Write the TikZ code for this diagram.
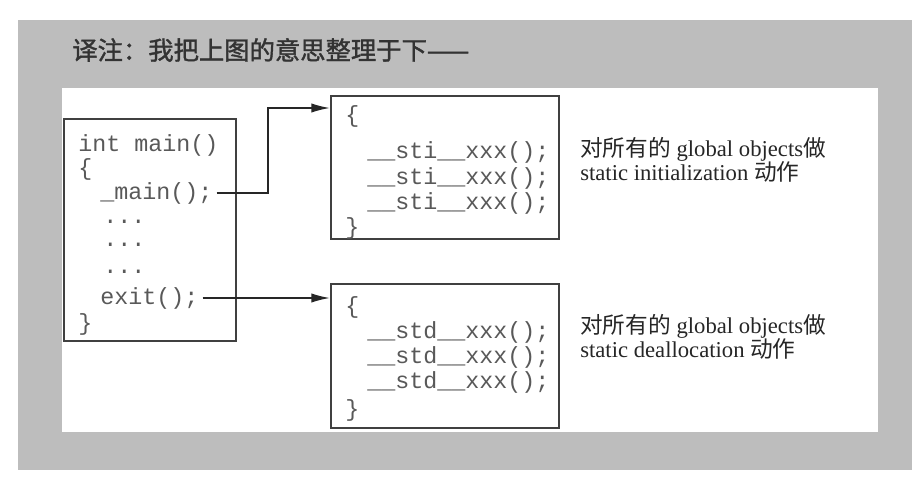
\documentclass[tikz,border=0pt]{standalone}
\usepackage{fontspec}
\setmainfont{Liberation Serif}
\setmonofont{Liberation Mono}
\newfontfamily\cjk{Noto Sans CJK SC}
\newfontfamily\cjkhead[FakeBold=1.5]{Noto Sans CJK SC}
\usetikzlibrary{arrows.meta,calc}
\tikzset{
  codebox/.style={draw=black!75,line width=1.5pt,anchor=north west},
  codeline/.style={anchor=west,inner sep=0pt,font=\fontsize{17.5}{18}\ttfamily,text=black!65},
  note/.style={anchor=north west,align=left,inner sep=0pt,font=\fontsize{17}{18}\selectfont,text=black!85},
  link/.style={draw=black!85,line width=1.2pt,-{Latex[length=14pt,width=7pt]}}
}
\begin{document}
\begin{tikzpicture}[x=0.75pt,y=-0.75pt]
\useasboundingbox (0,0) rectangle (914,477);
% grey panel with white inset
\fill[gray!52] (18,20) rectangle (912,470);
\fill[white] (62,88) rectangle (878,432);
\node[anchor=west,inner sep=0pt,font=\cjkhead\fontsize{19}{19}\selectfont,text=black!80] (hdr) at (72,50) {译注：我把上图的意思整理于下——};
% main()
\node[codebox,minimum width=129pt,minimum height=166.5pt] (mainbox) at (63,118) {};
\node[codeline] (m1) at (78,145) {int main()};
\node[codeline] (m2) at (78,169) {\{};
\node[codeline] (mainline) at (100,193) {\_main();};
\node[codeline] (m4) at (103,222) {...};
\node[codeline] (m5) at (103,245) {...};
\node[codeline] (m6) at (103,272) {...};
\node[codeline] (exitline) at (100,298) {exit();};
\node[codeline] (m8) at (78,324) {\}};
% static init
\node[codebox,minimum width=171pt,minimum height=107.25pt] (stibox) at (330,95) {};
\node[codeline] (s0) at (345,116) {\{};
\foreach \y/\n in {152/s1,178/s2,203/s3}
  \node[codeline] (\n) at (367,\y) {\_\_sti\_\_xxx();};
\node[codeline] (s4) at (345,228) {\}};
% static dealloc
\node[codebox,minimum width=171pt,minimum height=108pt] (stdbox) at (330,283) {};
\node[codeline] (d0) at (345,307) {\{};
\foreach \y/\n in {332/d1,357/d2,382/d3}
  \node[codeline] (\n) at (367,\y) {\_\_std\_\_xxx();};
\node[codeline] (d4) at (345,410) {\}};
% notes
\node[note] (initnote) at (580,137) {{\cjk 对所有的} global objects{\cjk 做}\\static initialization {\cjk 动作}};
\node[note] (deallocnote) at (580,314) {{\cjk 对所有的} global objects{\cjk 做}\\static deallocation {\cjk 动作}};
% calls
\coordinate (stiin) at ($(stibox.north west)+(0,13)$);
\draw[link] ([xshift=3pt]mainline.east) -| ($(stiin)+(-62,0)$) -- (stiin);
\draw[link] ([xshift=3pt]exitline.east) -- (stdbox.west |- exitline.east);
\end{tikzpicture}
\end{document}
